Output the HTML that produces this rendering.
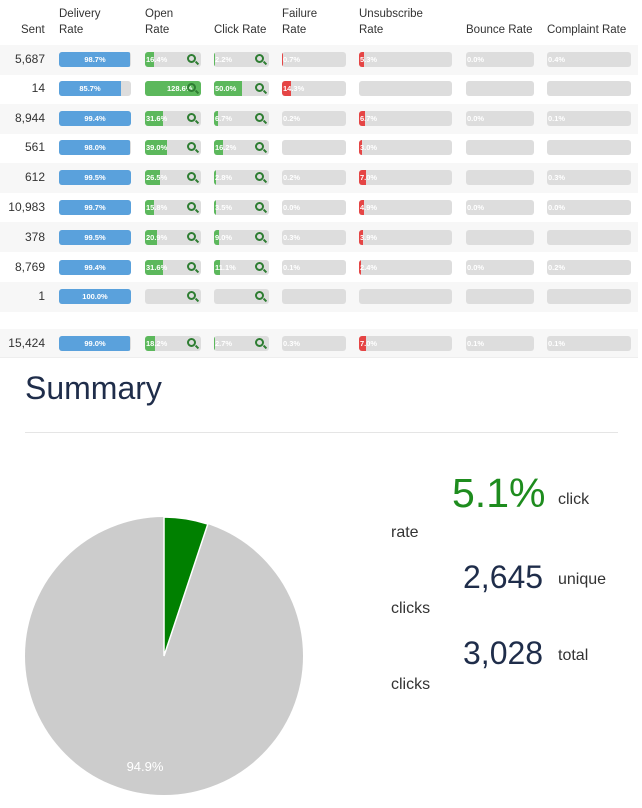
<!DOCTYPE html>
<html><head><meta charset="utf-8"><style>
*{margin:0;padding:0;box-sizing:border-box}
body{width:642px;height:808px;background:#fff;font-family:"Liberation Sans",sans-serif;position:relative;overflow:hidden;color:#333}
.h{position:absolute;font-size:11.5px;color:#333;line-height:16px}
.r{position:absolute;left:0;width:638px;height:29.5px}
.g{background:#f7f7f7}
.s{position:absolute;right:597px;font-size:12px;color:#333;line-height:15px}
.b{position:absolute;height:15px;background:#ddd;border-radius:3px;overflow:hidden}
.b i{position:absolute;left:0;top:0;bottom:0;display:block}
.b span{position:absolute;left:1px;top:0;font-size:7.5px;line-height:15px;color:#fff;font-weight:bold}
.b.d span{left:0;right:0;text-align:center}
.q{position:absolute;width:9px;height:9px;border:2px solid #2e7d32;border-radius:50%}
.q:after{content:"";position:absolute;left:6px;top:6px;width:4px;height:2px;background:#2e7d32;transform:rotate(45deg)}
</style></head><body>
<div class="h" style="left:21px;top:22px">Sent</div>
<div class="h" style="left:59px;top:6px">Delivery<br>Rate</div>
<div class="h" style="left:145px;top:6px">Open<br>Rate</div>
<div class="h" style="left:214px;top:22px">Click Rate</div>
<div class="h" style="left:282px;top:6px">Failure<br>Rate</div>
<div class="h" style="left:359px;top:6px">Unsubscribe<br>Rate</div>
<div class="h" style="left:466px;top:22px">Bounce Rate</div>
<div class="h" style="left:547px;top:22px">Complaint Rate</div>

<!-- row template: top offsets -->
<div class="r g" style="top:45px"></div>
<div class="r g" style="top:104px"></div>
<div class="r g" style="top:163px"></div>
<div class="r g" style="top:222px"></div>
<div class="r g" style="top:282px"></div>
<div class="r g" style="top:329px;height:28px"></div>
<div style="position:absolute;left:0;top:357px;width:638px;height:1px;background:#eee"></div>

<!-- Row 1 y=52 -->
<div class="s" style="top:52px">5,687</div>
<div class="b d" style="left:59px;top:52px;width:72px"><i style="width:98.7%;background:#5aa1dc"></i><span>98.7%</span></div>
<div class="b" style="left:145px;top:52px;width:56px"><i style="width:16.4%;background:#5cb85c"></i><span>16.4%</span></div><div class="q" style="left:187px;top:54px"></div>
<div class="b" style="left:214px;top:52px;width:55px"><i style="width:2.2%;background:#5cb85c"></i><span>2.2%</span></div><div class="q" style="left:255px;top:54px"></div>
<div class="b" style="left:282px;top:52px;width:64px"><i style="width:0.7%;background:#e54545"></i><span>0.7%</span></div>
<div class="b" style="left:359px;top:52px;width:93px"><i style="width:5.3%;background:#e54545"></i><span>5.3%</span></div>
<div class="b" style="left:466px;top:52px;width:68px"><span>0.0%</span></div>
<div class="b" style="left:547px;top:52px;width:84px"><span>0.4%</span></div>

<!-- Row 2 y=81 -->
<div class="s" style="top:81px">14</div>
<div class="b d" style="left:59px;top:81px;width:72px"><i style="width:85.7%;background:#5aa1dc"></i><span style="right:10px">85.7%</span></div>
<div class="b" style="left:145px;top:81px;width:56px"><i style="width:100%;background:#5cb85c"></i><span style="left:22px">128.6%</span></div><div class="q" style="left:187px;top:83px"></div>
<div class="b" style="left:214px;top:81px;width:55px"><i style="width:50%;background:#5cb85c"></i><span>50.0%</span></div><div class="q" style="left:255px;top:83px"></div>
<div class="b" style="left:282px;top:81px;width:64px"><i style="width:14.3%;background:#e54545"></i><span>14.3%</span></div>
<div class="b" style="left:359px;top:81px;width:93px"></div>
<div class="b" style="left:466px;top:81px;width:68px"></div>
<div class="b" style="left:547px;top:81px;width:84px"></div>

<!-- Row 3 y=111 -->
<div class="s" style="top:111px">8,944</div>
<div class="b d" style="left:59px;top:111px;width:72px"><i style="width:99.4%;background:#5aa1dc"></i><span>99.4%</span></div>
<div class="b" style="left:145px;top:111px;width:56px"><i style="width:31.6%;background:#5cb85c"></i><span>31.6%</span></div><div class="q" style="left:187px;top:113px"></div>
<div class="b" style="left:214px;top:111px;width:55px"><i style="width:6.7%;background:#5cb85c"></i><span>6.7%</span></div><div class="q" style="left:255px;top:113px"></div>
<div class="b" style="left:282px;top:111px;width:64px"><span>0.2%</span></div>
<div class="b" style="left:359px;top:111px;width:93px"><i style="width:6.7%;background:#e54545"></i><span>6.7%</span></div>
<div class="b" style="left:466px;top:111px;width:68px"><span>0.0%</span></div>
<div class="b" style="left:547px;top:111px;width:84px"><span>0.1%</span></div>

<!-- Row 4 y=140 -->
<div class="s" style="top:140px">561</div>
<div class="b d" style="left:59px;top:140px;width:72px"><i style="width:98%;background:#5aa1dc"></i><span>98.0%</span></div>
<div class="b" style="left:145px;top:140px;width:56px"><i style="width:39%;background:#5cb85c"></i><span>39.0%</span></div><div class="q" style="left:187px;top:142px"></div>
<div class="b" style="left:214px;top:140px;width:55px"><i style="width:16.2%;background:#5cb85c"></i><span>16.2%</span></div><div class="q" style="left:255px;top:142px"></div>
<div class="b" style="left:282px;top:140px;width:64px"></div>
<div class="b" style="left:359px;top:140px;width:93px"><i style="width:3%;background:#e54545"></i><span>3.0%</span></div>
<div class="b" style="left:466px;top:140px;width:68px"></div>
<div class="b" style="left:547px;top:140px;width:84px"></div>

<!-- Row 5 y=170 -->
<div class="s" style="top:170px">612</div>
<div class="b d" style="left:59px;top:170px;width:72px"><i style="width:99.5%;background:#5aa1dc"></i><span>99.5%</span></div>
<div class="b" style="left:145px;top:170px;width:56px"><i style="width:26.5%;background:#5cb85c"></i><span>26.5%</span></div><div class="q" style="left:187px;top:172px"></div>
<div class="b" style="left:214px;top:170px;width:55px"><i style="width:2.8%;background:#5cb85c"></i><span>2.8%</span></div><div class="q" style="left:255px;top:172px"></div>
<div class="b" style="left:282px;top:170px;width:64px"><span>0.2%</span></div>
<div class="b" style="left:359px;top:170px;width:93px"><i style="width:7%;background:#e54545"></i><span>7.0%</span></div>
<div class="b" style="left:466px;top:170px;width:68px"></div>
<div class="b" style="left:547px;top:170px;width:84px"><span>0.3%</span></div>

<!-- Row 6 y=200 -->
<div class="s" style="top:200px">10,983</div>
<div class="b d" style="left:59px;top:200px;width:72px"><i style="width:99.7%;background:#5aa1dc"></i><span>99.7%</span></div>
<div class="b" style="left:145px;top:200px;width:56px"><i style="width:15.8%;background:#5cb85c"></i><span>15.8%</span></div><div class="q" style="left:187px;top:202px"></div>
<div class="b" style="left:214px;top:200px;width:55px"><i style="width:3.5%;background:#5cb85c"></i><span>3.5%</span></div><div class="q" style="left:255px;top:202px"></div>
<div class="b" style="left:282px;top:200px;width:64px"><span>0.0%</span></div>
<div class="b" style="left:359px;top:200px;width:93px"><i style="width:4.9%;background:#e54545"></i><span>4.9%</span></div>
<div class="b" style="left:466px;top:200px;width:68px"><span>0.0%</span></div>
<div class="b" style="left:547px;top:200px;width:84px"><span>0.0%</span></div>

<!-- Row 7 y=230 -->
<div class="s" style="top:230px">378</div>
<div class="b d" style="left:59px;top:230px;width:72px"><i style="width:99.5%;background:#5aa1dc"></i><span>99.5%</span></div>
<div class="b" style="left:145px;top:230px;width:56px"><i style="width:20.9%;background:#5cb85c"></i><span>20.9%</span></div><div class="q" style="left:187px;top:232px"></div>
<div class="b" style="left:214px;top:230px;width:55px"><i style="width:9%;background:#5cb85c"></i><span>9.0%</span></div><div class="q" style="left:255px;top:232px"></div>
<div class="b" style="left:282px;top:230px;width:64px"><span>0.3%</span></div>
<div class="b" style="left:359px;top:230px;width:93px"><i style="width:3.9%;background:#e54545"></i><span>3.9%</span></div>
<div class="b" style="left:466px;top:230px;width:68px"></div>
<div class="b" style="left:547px;top:230px;width:84px"></div>

<!-- Row 8 y=260 -->
<div class="s" style="top:260px">8,769</div>
<div class="b d" style="left:59px;top:260px;width:72px"><i style="width:99.4%;background:#5aa1dc"></i><span>99.4%</span></div>
<div class="b" style="left:145px;top:260px;width:56px"><i style="width:31.6%;background:#5cb85c"></i><span>31.6%</span></div><div class="q" style="left:187px;top:262px"></div>
<div class="b" style="left:214px;top:260px;width:55px"><i style="width:11.1%;background:#5cb85c"></i><span>11.1%</span></div><div class="q" style="left:255px;top:262px"></div>
<div class="b" style="left:282px;top:260px;width:64px"><span>0.1%</span></div>
<div class="b" style="left:359px;top:260px;width:93px"><i style="width:2.4%;background:#e54545"></i><span>2.4%</span></div>
<div class="b" style="left:466px;top:260px;width:68px"><span>0.0%</span></div>
<div class="b" style="left:547px;top:260px;width:84px"><span>0.2%</span></div>

<!-- Row 9 y=289 -->
<div class="s" style="top:289px">1</div>
<div class="b d" style="left:59px;top:289px;width:72px"><i style="width:100%;background:#5aa1dc"></i><span>100.0%</span></div>
<div class="b" style="left:145px;top:289px;width:56px"></div><div class="q" style="left:187px;top:291px"></div>
<div class="b" style="left:214px;top:289px;width:55px"></div><div class="q" style="left:255px;top:291px"></div>
<div class="b" style="left:282px;top:289px;width:64px"></div>
<div class="b" style="left:359px;top:289px;width:93px"></div>
<div class="b" style="left:466px;top:289px;width:68px"></div>
<div class="b" style="left:547px;top:289px;width:84px"></div>

<!-- Row 10 y=336 -->
<div class="s" style="top:336px">15,424</div>
<div class="b d" style="left:59px;top:336px;width:72px"><i style="width:99%;background:#5aa1dc"></i><span>99.0%</span></div>
<div class="b" style="left:145px;top:336px;width:56px"><i style="width:18.2%;background:#5cb85c"></i><span>18.2%</span></div><div class="q" style="left:187px;top:338px"></div>
<div class="b" style="left:214px;top:336px;width:55px"><i style="width:2.7%;background:#5cb85c"></i><span>2.7%</span></div><div class="q" style="left:255px;top:338px"></div>
<div class="b" style="left:282px;top:336px;width:64px"><span>0.3%</span></div>
<div class="b" style="left:359px;top:336px;width:93px"><i style="width:7%;background:#e54545"></i><span>7.0%</span></div>
<div class="b" style="left:466px;top:336px;width:68px"><span>0.1%</span></div>
<div class="b" style="left:547px;top:336px;width:84px"><span>0.1%</span></div>

<div style="position:absolute;left:25px;top:368px;font-size:32px;color:#1f2d4a;line-height:40px">Summary</div>
<div style="position:absolute;left:25px;top:432px;width:593px;height:1px;background:#e5e5e5"></div>

<svg style="position:absolute;left:0;top:0" width="642" height="808">
<circle cx="164" cy="656" r="139" fill="#cccccc"/>
<path d="M164,656 L164,517 A139,139 0 0 1 207.8,524.1 Z" fill="#008000" stroke="#fff" stroke-width="1.5"/>
<text x="145" y="771" font-family="Liberation Sans" font-size="13" fill="#fff" text-anchor="middle">94.9%</text>
</svg>

<div style="position:absolute;left:452px;top:470px;font-size:41px;color:#1e8c1e;line-height:46px">5.1%</div>
<div style="position:absolute;left:558px;top:491px;font-size:16px;color:#333">click</div>
<div style="position:absolute;left:391px;top:524px;font-size:16px;color:#333">rate</div>
<div style="position:absolute;left:463px;top:558px;font-size:32px;color:#1f2d4a;line-height:38px">2,645</div>
<div style="position:absolute;left:558px;top:571px;font-size:16px;color:#333">unique</div>
<div style="position:absolute;left:391px;top:600px;font-size:16px;color:#333">clicks</div>
<div style="position:absolute;left:463px;top:634px;font-size:32px;color:#1f2d4a;line-height:38px">3,028</div>
<div style="position:absolute;left:558px;top:647px;font-size:16px;color:#333">total</div>
<div style="position:absolute;left:391px;top:676px;font-size:16px;color:#333">clicks</div>
</body></html>
